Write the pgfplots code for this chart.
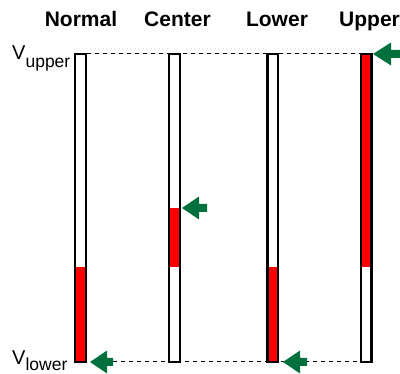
\documentclass[border=0pt]{standalone}
\usepackage{pgfplots}
\pgfplotsset{compat=1.18}
\usepackage{fontspec}
\setmainfont{Liberation Sans}
\definecolor{arrowgreen}{RGB}{0,112,60}
\begin{document}
\begin{tikzpicture}
\begin{axis}[
  x=1pt, y=308pt,
  xmin=0, xmax=400, ymin=-0.03896, ymax=1.17532,
  hide axis, clip=true,
]
% dashed reference lines
\addplot[black, line width=1pt, dash pattern=on 4pt off 4pt] coordinates {(87,1) (360,1)};
\addplot[black, line width=1pt, dash pattern=on 4pt off 4pt] coordinates {(113,0) (360,0)};
% bar backgrounds
\addplot[fill=white, draw=none] coordinates {(75,0) (86,0) (86,1) (75,1)} --cycle;
\addplot[fill=white, draw=none] coordinates {(169,0) (180,0) (180,1) (169,1)} --cycle;
\addplot[fill=white, draw=none] coordinates {(267.5,0) (278,0) (278,1) (267.5,1)} --cycle;
\addplot[fill=white, draw=none] coordinates {(361,0) (371.5,0) (371.5,1) (361,1)} --cycle;
% red ranges
\addplot[fill=red, draw=none] coordinates {(75,0) (86,0) (86,0.31) (75,0.31)} --cycle;
\addplot[fill=red, draw=none] coordinates {(169,0.31) (180,0.31) (180,0.5) (169,0.5)} --cycle;
\addplot[fill=red, draw=none] coordinates {(267.5,0) (278,0) (278,0.31) (267.5,0.31)} --cycle;
\addplot[fill=red, draw=none] coordinates {(361,0.31) (371.5,0.31) (371.5,1) (361,1)} --cycle;
% bar outlines
\addplot[draw=black, line width=2.5pt] coordinates {(75,0) (86,0) (86,1) (75,1)} --cycle;
\addplot[draw=black, line width=2.5pt] coordinates {(169,0) (180,0) (180,1) (169,1)} --cycle;
\addplot[draw=black, line width=2.5pt] coordinates {(267.5,0) (278,0) (278,1) (267.5,1)} --cycle;
\addplot[draw=black, line width=2.5pt] coordinates {(361,0) (371.5,0) (371.5,1) (361,1)} --cycle;
% green arrows
\addplot[fill=arrowgreen, draw=none] coordinates {(90,0) (107,0.0373) (107,0.013) (113,0.013) (113,-0.013) (107,-0.013) (107,-0.0373)} --cycle;
\addplot[fill=arrowgreen, draw=none] coordinates {(182,0.5) (199,0.5373) (199,0.513) (207,0.513) (207,0.487) (199,0.487) (199,0.4627)} --cycle;
\addplot[fill=arrowgreen, draw=none] coordinates {(283,0) (300,0.0373) (300,0.013) (307,0.013) (307,-0.013) (300,-0.013) (300,-0.0373)} --cycle;
\addplot[fill=arrowgreen, draw=none] coordinates {(373,1) (391,1.0373) (391,1.013) (402,1.013) (402,0.987) (391,0.987) (391,0.9627)} --cycle;
% titles
\node[anchor=base, inner sep=0pt, font=\fontsize{21}{21}\selectfont\bfseries] at (axis cs:81,1.0877) {Normal};
\node[anchor=base, inner sep=0pt, font=\fontsize{21}{21}\selectfont\bfseries] at (axis cs:177.5,1.0877) {Center};
\node[anchor=base, inner sep=0pt, font=\fontsize{21}{21}\selectfont\bfseries] at (axis cs:277,1.0877) {Lower};
\node[anchor=base west, inner sep=0pt, font=\fontsize{21}{21}\selectfont\bfseries] at (axis cs:339,1.0877) {Upper};
% V labels
\node[anchor=base west, inner sep=0pt, font=\fontsize{20}{20}\selectfont] at (axis cs:12,0.9805) {V\raisebox{-8pt}{\fontsize{17.5}{17.5}\selectfont upper}};
\node[anchor=base west, inner sep=0pt, font=\fontsize{20}{20}\selectfont] at (axis cs:12,-0.0097) {V\raisebox{-5.5pt}{\fontsize{17.5}{17.5}\selectfont lower}};
\end{axis}
\pgfresetboundingbox
\path[use as bounding box] (0,0) rectangle (400pt,374pt);
\end{tikzpicture}
\end{document}
